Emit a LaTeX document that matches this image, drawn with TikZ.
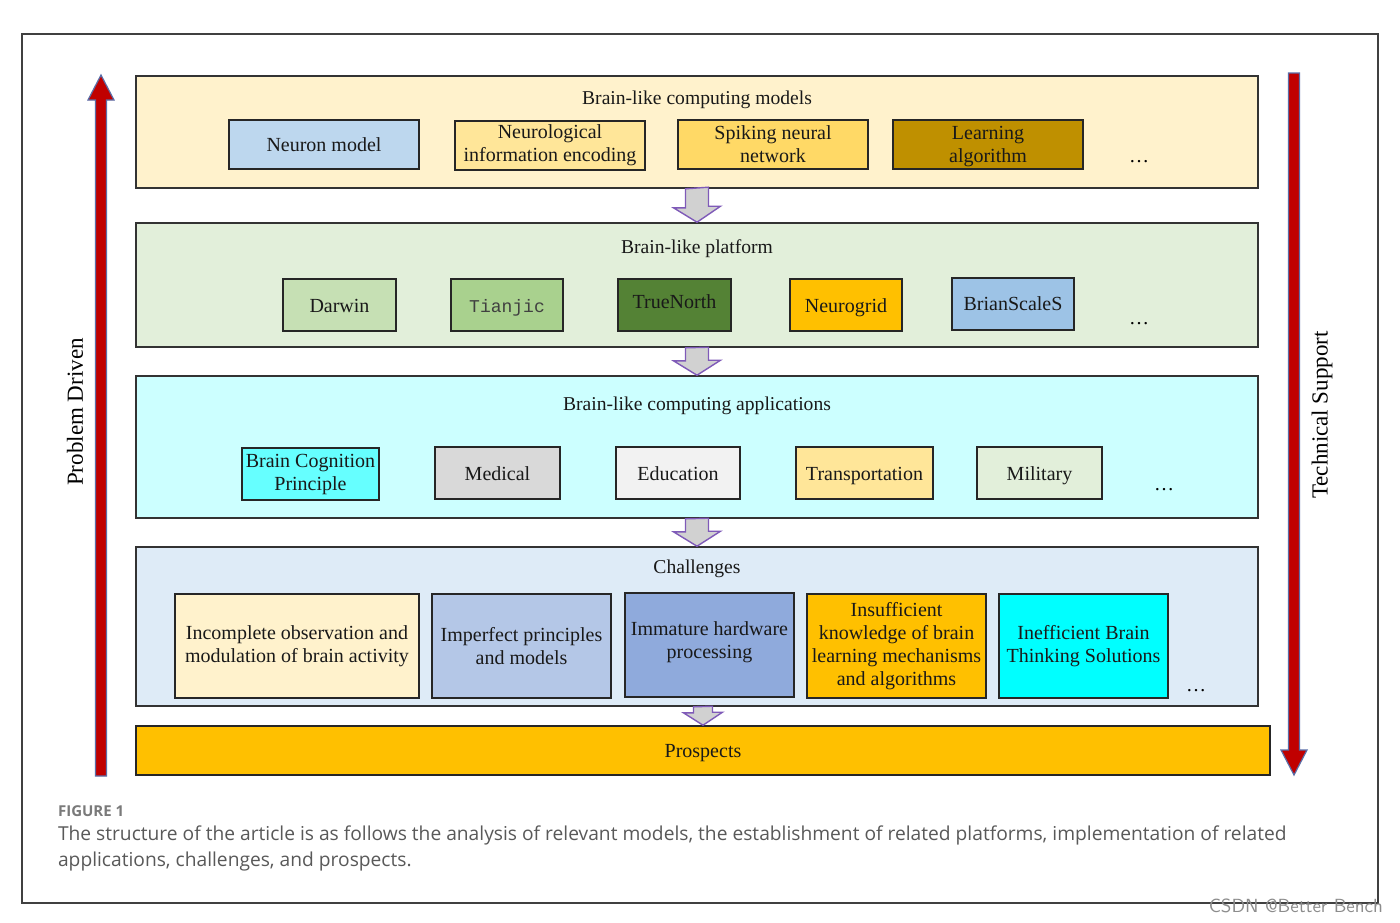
\documentclass[tikz,border=0pt]{standalone}
\usepackage{fontspec}
\setmainfont{Liberation Serif}
\newfontfamily\capfont{Open Sans}
\newfontfamily\tjfont{Liberation Mono}
\usetikzlibrary{calc}
\definecolor{frameC}{HTML}{404040}
\definecolor{arrowRed}{HTML}{C00000}
\definecolor{arrowEdge}{HTML}{5A6EA8}
\definecolor{purp}{HTML}{7F5AB8}
\definecolor{bgA}{HTML}{FFF2CC}
\definecolor{bgB}{HTML}{E2EFDA}
\definecolor{bgC}{HTML}{CCFFFF}
\definecolor{bgD}{HTML}{DEEBF7}
\definecolor{cNeuron}{HTML}{BDD7EE}
\definecolor{cEnc}{HTML}{FFE699}
\definecolor{cSpk}{HTML}{FFD966}
\definecolor{cLearn}{HTML}{BF9000}
\definecolor{cDarwin}{HTML}{C6E0B4}
\definecolor{cTianjic}{HTML}{A9D18E}
\definecolor{cTrue}{HTML}{548235}
\definecolor{cNeuro}{HTML}{FFC000}
\definecolor{cBrian}{HTML}{9DC3E6}
\definecolor{cBCP}{HTML}{66FFFF}
\definecolor{cMed}{HTML}{D9D9D9}
\definecolor{cEdu}{HTML}{F2F2F2}
\definecolor{cTrans}{HTML}{FFE699}
\definecolor{cMil}{HTML}{E2EFDA}
\definecolor{cCh1}{HTML}{FFF2CC}
\definecolor{cCh2}{HTML}{B4C7E7}
\definecolor{cCh3}{HTML}{8FAADC}
\definecolor{cCh4}{HTML}{FFC000}
\definecolor{cCh5}{HTML}{00FFFF}
\definecolor{capgray}{HTML}{595959}
\begin{document}
\begin{tikzpicture}[x=0.5pt,y=-0.5pt,
  panel/.style={draw=black!80, line width=0.8pt, inner sep=0pt, minimum width=561pt},
  bx/.style={draw=black!85, line width=0.8pt, inner sep=1pt, align=center,
     font=\fontsize{10}{11.5}\selectfont, text=black!90},
  one/.style={text height=7pt, text depth=0pt},
  ttl/.style={font=\fontsize{9.8}{12}\selectfont, text=black!90, text height=7pt, text depth=0pt},
  blockarrow/.style={draw=purp, fill=black!18, line width=0.7pt, line join=miter},
  bigarrow/.style={draw=arrowEdge, fill=arrowRed, line width=0.6pt},
  dots/.style={font=\fontsize{10}{12}\selectfont}]
\useasboundingbox (0,0) rectangle (1400,922);
\fill[white] (0,0) rectangle (1400,922);
% outer frame
\draw[frameC, line width=0.6pt] (22,34) rectangle (1378,903);

% vertical arrows
\draw[bigarrow] (95.5,776) -- (95.5,100) -- (88,100) -- (101,75) -- (114,100) -- (106.5,100) -- (106.5,776) -- cycle;
\draw[bigarrow] (1288.5,73) -- (1299.5,73) -- (1299.5,750) -- (1307,750) -- (1294,775) -- (1281,750) -- (1288.5,750) -- cycle;
\node[rotate=90, font=\fontsize{11.5}{13}\selectfont] (pd) at (75,412) {Problem Driven};
\node[rotate=90, font=\fontsize{11.5}{13}\selectfont] (ts) at (1322,415) {Technical Support};

% panel 1
\node[panel, fill=bgA, minimum height=56pt] (p1) at (697,132) {};
\node[ttl] (t1) at (697,97) {Brain-like computing models};
\node[bx, one, fill=cNeuron, minimum width=95pt, minimum height=24.5pt] (a1) at (324,144.5) {Neuron model};
\node[bx, fill=cEnc, minimum width=95pt, minimum height=24.5pt] (a2) at (550,145.5) {Neurological\\information encoding};
\node[bx, fill=cSpk, minimum width=95pt, minimum height=24.5pt] (a3) at (773,144.5) {Spiking neural\\network};
\node[bx, fill=cLearn, minimum width=95pt, minimum height=24.5pt] (a4) at (988,144.5) {};
\node[align=center, font=\fontsize{10}{11.5}\selectfont, text=black!90] (a4t) at (988,146.5) {Learning\\algorithm};
\node[dots] (d1) at (1139,162) {\dots};

% panel 2
\node[panel, fill=bgB, minimum height=62pt] (p2) at (697,285) {};
\node[ttl] (t2) at (697,246) {Brain-like platform};
\node[bx, one, fill=cDarwin, minimum width=56.5pt, minimum height=26pt] (b1) at (339.5,305) {Darwin};
\node[bx, one, fill=cTianjic, minimum width=56pt, minimum height=26pt, font=\tjfont\fontsize{9}{11}\selectfont, text=black!75] (b2) at (507,305) {Tianjic};
\node[bx, fill=cTrue, minimum width=56.5pt, minimum height=26pt] (b3) at (674.5,305) {};
\node[font=\fontsize{10}{11.5}\selectfont, text=black!90, one] (b3t) at (674.5,301) {TrueNorth};
\node[bx, one, fill=cNeuro, minimum width=56pt, minimum height=26pt] (b4) at (846,305) {Neurogrid};
\node[bx, fill=cBrian, minimum width=61pt, minimum height=26pt] (b5) at (1013,304) {};
\node[font=\fontsize{10}{11.5}\selectfont, text=black!90, one] (b5t) at (1013,303) {BrianScaleS};
\node[dots] (d2) at (1139,324) {\dots};

% panel 3
\node[panel, fill=bgC, minimum height=71pt] (p3) at (697,447) {};
\node[ttl] (t3) at (697,403) {Brain-like computing applications};
\node[bx, fill=cBCP, minimum width=68.5pt, minimum height=26pt] (c1) at (310.5,474) {Brain Cognition\\Principle};
\node[bx, one, fill=cMed, minimum width=62.5pt, minimum height=26pt] (c2) at (497.5,473) {Medical};
\node[bx, one, fill=cEdu, minimum width=62pt, minimum height=26pt] (c3) at (678,473) {Education};
\node[bx, one, fill=cTrans, minimum width=68.5pt, minimum height=26pt] (c4) at (864.5,473) {Transportation};
\node[bx, one, fill=cMil, minimum width=62.5pt, minimum height=26pt] (c5) at (1039.5,473) {Military};
\node[dots] (d3) at (1164,490) {\dots};

% panel 4
\node[panel, fill=bgD, minimum height=79.5pt] (p4) at (697,626.5) {};
\node[ttl] (t4) at (697,566) {Challenges};
\node[bx, fill=cCh1, minimum width=122pt, minimum height=52pt] (e1) at (297,646) {Incomplete observation and\\modulation of brain activity};
\node[bx, fill=cCh2, minimum width=89.5pt, minimum height=52pt] (e2) at (521.5,646) {Imperfect principles\\and models};
\node[bx, fill=cCh3, minimum width=84.5pt, minimum height=52pt] (e3) at (709.5,645) {};
\node[align=center, font=\fontsize{10}{11.5}\selectfont, text=black!90] (e3t) at (709.5,642) {Immature hardware\\processing};
\node[bx, fill=cCh4, minimum width=89.5pt, minimum height=52pt] (e4) at (896.5,646) {Insufficient\\knowledge of brain\\learning mechanisms\\and algorithms};
\node[bx, fill=cCh5, minimum width=84.5pt, minimum height=52pt] (e5) at (1083.5,646) {Inefficient Brain\\Thinking Solutions};
\node[dots] (d4) at (1196,691) {\dots};

% prospects
\node[bx, one, fill=cNeuro, minimum width=567pt, minimum height=24.5pt] (pr) at (703,750.5) {Prospects};

% block arrows
\draw[blockarrow] ($(p1.south)+(-11.5,0)$) -- ++(0,19) -- ++(-12,0) -- (p2.north) -- ++(23.5,-16) -- ++(-12,0) -- ++(0,-19) -- cycle;
\draw[blockarrow] ($(p2.south)+(-11.5,0)$) -- ++(0,13) -- ++(-12,0) -- (p3.north) -- ++(23.5,-15) -- ++(-12,0) -- ++(0,-13) -- cycle;
\draw[blockarrow] ($(p3.south)+(-11.5,0)$) -- ++(0,13) -- ++(-12,0) -- (p4.north) -- ++(23.5,-15) -- ++(-12,0) -- ++(0,-13) -- cycle;
\coordinate (a4top) at (p4.south -| pr.north);
\draw[blockarrow] ($(a4top)+(-9.5,0)$) -- ++(0,6) -- ++(-10,0) -- (pr.north) -- ++(19.5,-13) -- ++(-10,0) -- ++(0,-6) -- cycle;

% caption
\node[anchor=west, font=\capfont\bfseries\fontsize{7.5}{9}\selectfont, text=capgray!80] (fig) at (51,811) {FIGURE 1};
\node[anchor=west, font=\capfont\fontsize{9.6}{13}\selectfont, text=capgray, align=left] (cap) at (51,848) {The structure of the article is as follows the analysis of relevant models, the establishment of related platforms, implementation of related\\applications, challenges, and prospects.};
% watermark
\node[anchor=east, font=\fontsize{9.5}{11}\selectfont\sffamily, text=black!45] (wm) at (1390,906) {CSDN @Better Bench};
\end{tikzpicture}
\end{document}
